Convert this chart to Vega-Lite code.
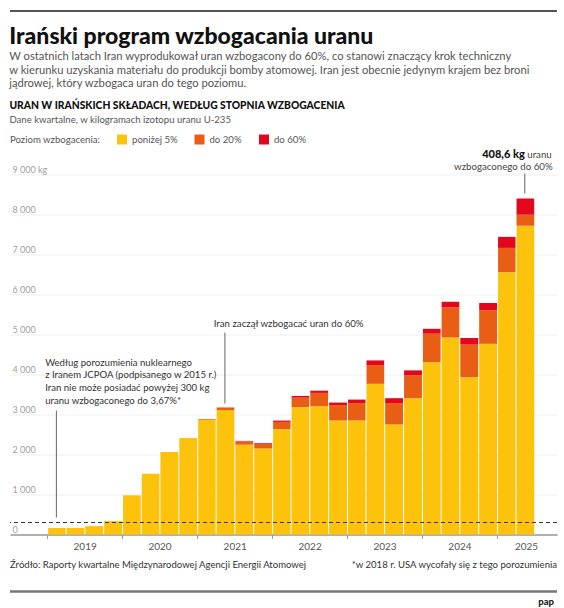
{
  "$schema": "https://vega.github.io/schema/vega-lite/v6.json",
  "background": "white",
  "padding": {"left": 8, "right": 9, "top": 10, "bottom": 0},
  "spacing": 7,
  "resolve": {
    "scale": {"x": "independent", "y": "independent", "color": "independent"},
    "axis": {"x": "independent", "y": "independent"},
    "legend": {"color": "independent"}
  },
  "config": {
    "view": {"stroke": null},
    "font": "Lato",
    "text": {"font": "Lato"},
    "axisY": {"labelOverlap": false}
  },
  "datasets": {
    "kwartaly": [
      {"kwartal": "2019-01-01", "poziom": "poniżej 5%", "stopien": 5, "kg": 160},
      {"kwartal": "2019-04-01", "poziom": "poniżej 5%", "stopien": 5, "kg": 165},
      {"kwartal": "2019-07-01", "poziom": "poniżej 5%", "stopien": 5, "kg": 210},
      {"kwartal": "2019-10-01", "poziom": "poniżej 5%", "stopien": 5, "kg": 335},
      {"kwartal": "2020-01-01", "poziom": "poniżej 5%", "stopien": 5, "kg": 980},
      {"kwartal": "2020-04-01", "poziom": "poniżej 5%", "stopien": 5, "kg": 1520},
      {"kwartal": "2020-07-01", "poziom": "poniżej 5%", "stopien": 5, "kg": 2060},
      {"kwartal": "2020-10-01", "poziom": "poniżej 5%", "stopien": 5, "kg": 2410},
      {"kwartal": "2021-01-01", "poziom": "poniżej 5%", "stopien": 5, "kg": 2870},
      {"kwartal": "2021-01-01", "poziom": "do 20%", "stopien": 20, "kg": 18},
      {"kwartal": "2021-04-01", "poziom": "poniżej 5%", "stopien": 5, "kg": 3110},
      {"kwartal": "2021-04-01", "poziom": "do 20%", "stopien": 20, "kg": 63},
      {"kwartal": "2021-04-01", "poziom": "do 60%", "stopien": 60, "kg": 3},
      {"kwartal": "2021-07-01", "poziom": "poniżej 5%", "stopien": 5, "kg": 2245},
      {"kwartal": "2021-07-01", "poziom": "do 20%", "stopien": 20, "kg": 84},
      {"kwartal": "2021-07-01", "poziom": "do 60%", "stopien": 60, "kg": 10},
      {"kwartal": "2021-10-01", "poziom": "poniżej 5%", "stopien": 5, "kg": 2150},
      {"kwartal": "2021-10-01", "poziom": "do 20%", "stopien": 20, "kg": 114},
      {"kwartal": "2021-10-01", "poziom": "do 60%", "stopien": 60, "kg": 18},
      {"kwartal": "2022-01-01", "poziom": "poniżej 5%", "stopien": 5, "kg": 2633},
      {"kwartal": "2022-01-01", "poziom": "do 20%", "stopien": 20, "kg": 182},
      {"kwartal": "2022-01-01", "poziom": "do 60%", "stopien": 60, "kg": 33},
      {"kwartal": "2022-04-01", "poziom": "poniżej 5%", "stopien": 5, "kg": 3183},
      {"kwartal": "2022-04-01", "poziom": "do 20%", "stopien": 20, "kg": 238},
      {"kwartal": "2022-04-01", "poziom": "do 60%", "stopien": 60, "kg": 43},
      {"kwartal": "2022-07-01", "poziom": "poniżej 5%", "stopien": 5, "kg": 3208},
      {"kwartal": "2022-07-01", "poziom": "do 20%", "stopien": 20, "kg": 332},
      {"kwartal": "2022-07-01", "poziom": "do 60%", "stopien": 60, "kg": 56},
      {"kwartal": "2022-10-01", "poziom": "poniżej 5%", "stopien": 5, "kg": 2850},
      {"kwartal": "2022-10-01", "poziom": "do 20%", "stopien": 20, "kg": 386},
      {"kwartal": "2022-10-01", "poziom": "do 60%", "stopien": 60, "kg": 62},
      {"kwartal": "2023-01-01", "poziom": "poniżej 5%", "stopien": 5, "kg": 2850},
      {"kwartal": "2023-01-01", "poziom": "do 20%", "stopien": 20, "kg": 435},
      {"kwartal": "2023-01-01", "poziom": "do 60%", "stopien": 60, "kg": 88},
      {"kwartal": "2023-04-01", "poziom": "poniżej 5%", "stopien": 5, "kg": 3767},
      {"kwartal": "2023-04-01", "poziom": "do 20%", "stopien": 20, "kg": 471},
      {"kwartal": "2023-04-01", "poziom": "do 60%", "stopien": 60, "kg": 114},
      {"kwartal": "2023-07-01", "poziom": "poniżej 5%", "stopien": 5, "kg": 2750},
      {"kwartal": "2023-07-01", "poziom": "do 20%", "stopien": 20, "kg": 536},
      {"kwartal": "2023-07-01", "poziom": "do 60%", "stopien": 60, "kg": 122},
      {"kwartal": "2023-10-01", "poziom": "poniżej 5%", "stopien": 5, "kg": 3408},
      {"kwartal": "2023-10-01", "poziom": "do 20%", "stopien": 20, "kg": 567},
      {"kwartal": "2023-10-01", "poziom": "do 60%", "stopien": 60, "kg": 128},
      {"kwartal": "2024-01-01", "poziom": "poniżej 5%", "stopien": 5, "kg": 4308},
      {"kwartal": "2024-01-01", "poziom": "do 20%", "stopien": 20, "kg": 712},
      {"kwartal": "2024-01-01", "poziom": "do 60%", "stopien": 60, "kg": 122},
      {"kwartal": "2024-04-01", "poziom": "poniżej 5%", "stopien": 5, "kg": 4925},
      {"kwartal": "2024-04-01", "poziom": "do 20%", "stopien": 20, "kg": 751},
      {"kwartal": "2024-04-01", "poziom": "do 60%", "stopien": 60, "kg": 142},
      {"kwartal": "2024-07-01", "poziom": "poniżej 5%", "stopien": 5, "kg": 3933},
      {"kwartal": "2024-07-01", "poziom": "do 20%", "stopien": 20, "kg": 814},
      {"kwartal": "2024-07-01", "poziom": "do 60%", "stopien": 60, "kg": 165},
      {"kwartal": "2024-10-01", "poziom": "poniżej 5%", "stopien": 5, "kg": 4767},
      {"kwartal": "2024-10-01", "poziom": "do 20%", "stopien": 20, "kg": 839},
      {"kwartal": "2024-10-01", "poziom": "do 60%", "stopien": 60, "kg": 182},
      {"kwartal": "2025-01-01", "poziom": "poniżej 5%", "stopien": 5, "kg": 6558},
      {"kwartal": "2025-01-01", "poziom": "do 20%", "stopien": 20, "kg": 607},
      {"kwartal": "2025-01-01", "poziom": "do 60%", "stopien": 60, "kg": 275},
      {"kwartal": "2025-04-01", "poziom": "poniżej 5%", "stopien": 5, "kg": 7717},
      {"kwartal": "2025-04-01", "poziom": "do 20%", "stopien": 20, "kg": 275},
      {"kwartal": "2025-04-01", "poziom": "do 60%", "stopien": 60, "kg": 409}
    ]
  },
  "vconcat": [
    {
      "spacing": 10.5,
      "resolve": {
        "scale": {"x": "independent", "y": "independent", "color": "independent"},
        "axis": {"x": "independent", "y": "independent"},
        "legend": {"color": "independent"}
      },
      "vconcat": [
        {
          "width": 547,
          "height": 1,
          "data": {"values": [{"linia": 1}]},
          "mark": {"type": "rule", "color": "#1a1a1a", "strokeWidth": 1.5},
          "encoding": {"y": {"field": "linia", "type": "quantitative", "scale": {"domain": [0, 1]}, "axis": null}},
          "title": {
            "text": "Irański program wzbogacania uranu",
            "subtitle": [
              "W ostatnich latach Iran wyprodukował uran wzbogacony do 60%, co stanowi znaczący krok techniczny",
              "w kierunku uzyskania materiału do produkcji bomby atomowej. Iran jest obecnie jedynym krajem bez broni",
              "jądrowej, który wzbogaca uran do tego poziomu."
            ],
            "orient": "bottom",
            "anchor": "start",
            "offset": 14,
            "font": "Lato",
            "fontSize": 23,
            "fontWeight": 900,
            "color": "#111111",
            "subtitleFont": "Lato",
            "subtitleFontSize": 11.2,
            "subtitleColor": "#555555",
            "subtitleLineHeight": 13.7,
            "subtitlePadding": 2,
            "limit": 0
          }
        },
        {
          "width": 547,
          "height": 360,
          "title": {
            "text": "URAN W IRAŃSKICH SKŁADACH, WEDŁUG STOPNIA WZBOGACENIA",
            "subtitle": "Dane kwartalne, w kilogramach izotopu uranu U-235",
            "anchor": "start",
            "offset": 10,
            "font": "Lato",
            "fontSize": 10.3,
            "fontWeight": 900,
            "color": "#111111",
            "subtitleFont": "Lato",
            "subtitleFontSize": 9.6,
            "subtitleColor": "#555555",
            "subtitlePadding": 4
          },
          "layer": [
            {
              "data": {"name": "kwartaly"},
              "mark": {"type": "bar", "timeUnitBandSize": 0.9},
              "encoding": {
                "x": {
                  "field": "kwartal",
                  "timeUnit": "utcyearquarter",
                  "type": "temporal",
                  "scale": {
                    "type": "utc",
                    "domain": [
                      {"year": 2018, "month": 7, "date": 4, "utc": true},
                      {"year": 2025, "month": 10, "date": 20, "utc": true}
                    ]
                  },
                  "axis": {
                    "title": null,
                    "values": [
                      {"year": 2019, "month": 1, "date": 1, "utc": true},
                      {"year": 2020, "month": 1, "date": 1, "utc": true},
                      {"year": 2021, "month": 1, "date": 1, "utc": true},
                      {"year": 2022, "month": 1, "date": 1, "utc": true},
                      {"year": 2023, "month": 1, "date": 1, "utc": true},
                      {"year": 2024, "month": 1, "date": 1, "utc": true},
                      {"year": 2025, "month": 1, "date": 1, "utc": true}
                    ],
                    "labelExpr": "utcFormat(datum.value, '%Y')",
                    "labelOffset": {"condition": {"test": "utcyear(datum.value) == 2025", "value": 29}, "value": 37.5},
                    "grid": false,
                    "domainColor": "#9a9a9a",
                    "domainWidth": 1.5,
                    "tickColor": "#9a9a9a",
                    "tickSize": 4,
                    "labelFont": "Lato",
                    "labelFontSize": 10,
                    "labelColor": "#555555",
                    "labelPadding": 3,
                    "labelFlush": false,
                    "labelOverlap": false,
                    "labelBound": false
                  }
                },
                "y": {
                  "field": "kg",
                  "type": "quantitative",
                  "stack": "zero",
                  "scale": {"domain": [0, 9000], "nice": false},
                  "axis": {
                    "title": null,
                    "values": [0, 1000, 2000, 3000, 4000, 5000, 6000, 7000, 8000, 9000],
                    "tickCount": 10,
                    "labelExpr": "datum.value == 9000 ? '9 000 kg' : replace(format(datum.value, ','), ',', ' ')",
                    "domain": false,
                    "ticks": false,
                    "grid": true,
                    "gridColor": "#eeeeee",
                    "labelAlign": "left",
                    "labelBaseline": "alphabetic",
                    "labelPadding": -2,
                    "labelOffset": -2.5,
                    "labelFont": "Lato",
                    "labelFontSize": 9,
                    "labelColor": "#a0a0a0",
                    "labelFlush": false,
                    "labelOverlap": false,
                    "labelBound": false
                  }
                },
                "color": {
                  "field": "poziom",
                  "type": "nominal",
                  "scale": {
                    "domain": ["poniżej 5%", "do 20%", "do 60%"],
                    "range": ["#FDC20C", "#E85E15", "#E2071C"]
                  },
                  "legend": {
                    "orient": "none",
                    "legendX": 0,
                    "legendY": -40,
                    "direction": "horizontal",
                    "title": "Poziom wzbogacenia:",
                    "titleOrient": "left",
                    "titleFont": "Lato",
                    "titleFontWeight": "normal",
                    "titleFontSize": 9.6,
                    "titleColor": "#555555",
                    "titlePadding": 16,
                    "labelFont": "Lato",
                    "labelFontSize": 9.6,
                    "labelColor": "#555555",
                    "labelOffset": 5,
                    "columnPadding": 16.5,
                    "symbolType": "square",
                    "symbolSize": 100,
                    "symbolStrokeWidth": 0,
                    "symbolOpacity": 1
                  }
                },
                "order": {"field": "stopien", "type": "quantitative"}
              }
            },
            {
              "data": {"values": [{"kg": 300}]},
              "mark": {"type": "rule", "color": "#333333", "strokeWidth": 1.2, "strokeDash": [4, 3]},
              "encoding": {"y": {"field": "kg", "type": "quantitative"}}
            },
            {
              "data": {"values": [
                {"kwartal": "2019-02-15", "kg": 425, "kg2": 3100},
                {"kwartal": "2021-05-16", "kg": 3275, "kg2": 5050},
                {"kwartal": "2025-05-16", "kg": 8525, "kg2": 9025}
              ]},
              "mark": {"type": "rule", "color": "#666666", "strokeWidth": 1},
              "encoding": {
                "x": {"field": "kwartal", "type": "temporal"},
                "y": {"field": "kg", "type": "quantitative"},
                "y2": {"field": "kg2"}
              }
            },
            {
              "data": {"values": [
                {"kwartal": "2019-01-01", "kg": 4225, "tekst": ["Według porozumienia nuklearnego", "z Iranem JCPOA (podpisanego w 2015 r.)", "Iran nie może posiadać powyżej 300 kg", "uranu wzbogaconego do 3,67%*"]}
              ]},
              "mark": {"type": "text", "align": "left", "baseline": "alphabetic", "dx": -2, "fontSize": 9.6, "lineHeight": 12.7, "color": "#333333"},
              "encoding": {
                "x": {"field": "kwartal", "type": "temporal"},
                "y": {"field": "kg", "type": "quantitative"},
                "text": {"field": "tekst"}
              }
            },
            {
              "data": {"values": [
                {"kwartal": "2021-04-01", "kg": 5200, "tekst": "Iran zaczął wzbogacać uran do 60%"}
              ]},
              "mark": {"type": "text", "align": "left", "baseline": "alphabetic", "dx": -2, "fontSize": 9.7, "color": "#333333"},
              "encoding": {
                "x": {"field": "kwartal", "type": "temporal"},
                "y": {"field": "kg", "type": "quantitative"},
                "text": {"field": "tekst"}
              }
            },
            {
              "data": {"values": [
                {"kwartal": "2025-05-16", "kg": 9425, "tekst": "408,6 kg"}
              ]},
              "mark": {"type": "text", "align": "right", "baseline": "alphabetic", "fontSize": 11, "fontWeight": 900, "color": "#111111"},
              "encoding": {
                "x": {"field": "kwartal", "type": "temporal"},
                "y": {"field": "kg", "type": "quantitative"},
                "text": {"field": "tekst"}
              }
            },
            {
              "data": {"values": [
                {"kwartal": "2025-05-16", "kg": 9425, "tekst": "uranu"}
              ]},
              "mark": {"type": "text", "align": "left", "baseline": "alphabetic", "dx": 2.5, "fontSize": 9.7, "color": "#444444"},
              "encoding": {
                "x": {"field": "kwartal", "type": "temporal"},
                "y": {"field": "kg", "type": "quantitative"},
                "text": {"field": "tekst"}
              }
            },
            {
              "data": {"values": [
                {"kwartal": "2025-09-29", "kg": 9125, "tekst": "wzbogaconego do 60%"}
              ]},
              "mark": {"type": "text", "align": "right", "baseline": "alphabetic", "fontSize": 9.7, "color": "#444444"},
              "encoding": {
                "x": {"field": "kwartal", "type": "temporal"},
                "y": {"field": "kg", "type": "quantitative"},
                "text": {"field": "tekst"}
              }
            }
          ]
        }
      ]
    },
    {
      "width": 547,
      "height": 31.6,
      "data": {"values": [
        {"strona": "lewa", "rola": "zrodlo", "tekst": "Źródło: Raporty kwartalne Międzynarodowej Agencji Energii Atomowej"},
        {"strona": "prawa", "rola": "przypis", "tekst": "*w 2018 r. USA wycofały się z tego porozumienia"},
        {"strona": "prawa", "rola": "logo", "tekst": "pap"}
      ]},
      "layer": [
        {
          "transform": [{"filter": "datum.rola == 'zrodlo'"}],
          "mark": {"type": "text", "align": "left", "baseline": "middle", "fontSize": 9.55, "color": "#333333"},
          "encoding": {
            "x": {"field": "strona", "type": "nominal", "scale": {"type": "point", "padding": 0, "domain": ["lewa", "prawa"]}, "axis": null},
            "y": {"datum": 0.85, "type": "quantitative", "scale": {"domain": [0, 1]}, "axis": null},
            "text": {"field": "tekst"}
          }
        },
        {
          "transform": [{"filter": "datum.rola == 'przypis'"}],
          "mark": {"type": "text", "align": "right", "baseline": "middle", "fontSize": 9.55, "color": "#333333"},
          "encoding": {
            "x": {"field": "strona", "type": "nominal"},
            "y": {"datum": 0.85, "type": "quantitative"},
            "text": {"field": "tekst"}
          }
        },
        {
          "transform": [{"filter": "datum.rola == 'logo'"}],
          "mark": {"type": "text", "align": "right", "baseline": "middle", "dx": -3, "fontSize": 9.5, "fontWeight": 900, "color": "#222222"},
          "encoding": {
            "x": {"field": "strona", "type": "nominal"},
            "y": {"datum": -0.34, "type": "quantitative"},
            "text": {"field": "tekst"}
          }
        },
        {
          "transform": [{"filter": "datum.rola == 'logo'"}],
          "mark": {"type": "rule", "color": "#777777", "strokeWidth": 2.5},
          "encoding": {
            "y": {"datum": 0, "type": "quantitative"}
          }
        }
      ]
    }
  ]
}
